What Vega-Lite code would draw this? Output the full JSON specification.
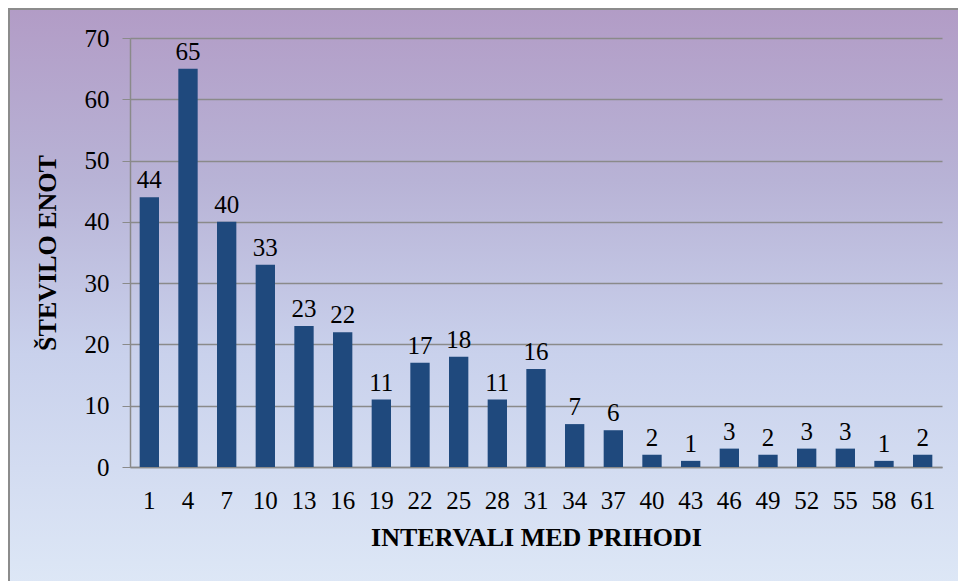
{
  "$schema": "https://vega.github.io/schema/vega-lite/v6.json",
  "width": 952,
  "height": 575,
  "autosize": {"type": "none"},
  "padding": {"left": 9, "top": 9, "right": -3, "bottom": -3},
  "background": "#ffffff",
  "config": {
    "font": "Liberation Serif",
    "axis": {"labelFont": "Liberation Serif", "titleFont": "Liberation Serif"},
    "text": {"font": "Liberation Serif"},
    "view": {
      "stroke": "#8c8c8c",
      "strokeWidth": 2,
      "fill": {
        "gradient": "linear",
        "x1": 0, "y1": 0, "x2": 0, "y2": 1,
        "stops": [
          {"offset": 0, "color": "#b29cc6"},
          {"offset": 0.3, "color": "#b8b3d6"},
          {"offset": 0.6, "color": "#c9d1ec"},
          {"offset": 1, "color": "#dde7f6"}
        ]
      }
    }
  },
  "data": {
    "values": [
      {"interval": 1, "count": 44},
      {"interval": 4, "count": 65},
      {"interval": 7, "count": 40},
      {"interval": 10, "count": 33},
      {"interval": 13, "count": 23},
      {"interval": 16, "count": 22},
      {"interval": 19, "count": 11},
      {"interval": 22, "count": 17},
      {"interval": 25, "count": 18},
      {"interval": 28, "count": 11},
      {"interval": 31, "count": 16},
      {"interval": 34, "count": 7},
      {"interval": 37, "count": 6},
      {"interval": 40, "count": 2},
      {"interval": 43, "count": 1},
      {"interval": 46, "count": 3},
      {"interval": 49, "count": 2},
      {"interval": 52, "count": 3},
      {"interval": 55, "count": 3},
      {"interval": 58, "count": 1},
      {"interval": 61, "count": 2}
    ]
  },
  "encoding": {
    "x": {
      "field": "interval",
      "type": "ordinal",
      "sort": null,
      "scale": {"range": [121, 933], "paddingInner": 0.5, "paddingOuter": 0.25},
      "axis": {
        "title": "INTERVALI MED PRIHODI",
        "offset": -117,
        "labelAngle": 0,
        "ticks": false,
        "tickSize": 0,
        "labelPadding": 21,
        "labelFont": "Liberation Serif",
        "labelFontSize": 25,
        "labelColor": "#000000",
        "domainColor": "#8a8a8a",
        "domainWidth": 1.5,
        "titleFont": "Liberation Serif",
        "titleFontSize": 26,
        "titleFontWeight": "bold",
        "titleColor": "#000000",
        "titlePadding": 11
      }
    },
    "y": {
      "field": "count",
      "type": "quantitative",
      "scale": {"domain": [0, 70], "range": [458, 29], "nice": false},
      "axis": {
        "title": "ŠTEVILO ENOT",
        "offset": -121,
        "values": [0, 10, 20, 30, 40, 50, 60, 70],
        "grid": true,
        "gridColor": "#8a8a8a",
        "gridWidth": 1.3,
        "domainColor": "#8a8a8a",
        "domainWidth": 1.5,
        "tickColor": "#8a8a8a",
        "tickSize": 8,
        "labelPadding": 13,
        "labelFont": "Liberation Serif",
        "labelFontSize": 25,
        "labelColor": "#000000",
        "titleFont": "Liberation Serif",
        "titleFontSize": 26,
        "titleFontWeight": "bold",
        "titleColor": "#000000",
        "titlePadding": 24
      }
    }
  },
  "layer": [
    {"mark": {"type": "bar", "color": "#1f497d"}},
    {
      "mark": {"type": "text", "dy": -9, "baseline": "alphabetic", "font": "Liberation Serif", "fontSize": 25, "color": "#000000"},
      "encoding": {"text": {"field": "count", "type": "quantitative"}}
    }
  ]
}
